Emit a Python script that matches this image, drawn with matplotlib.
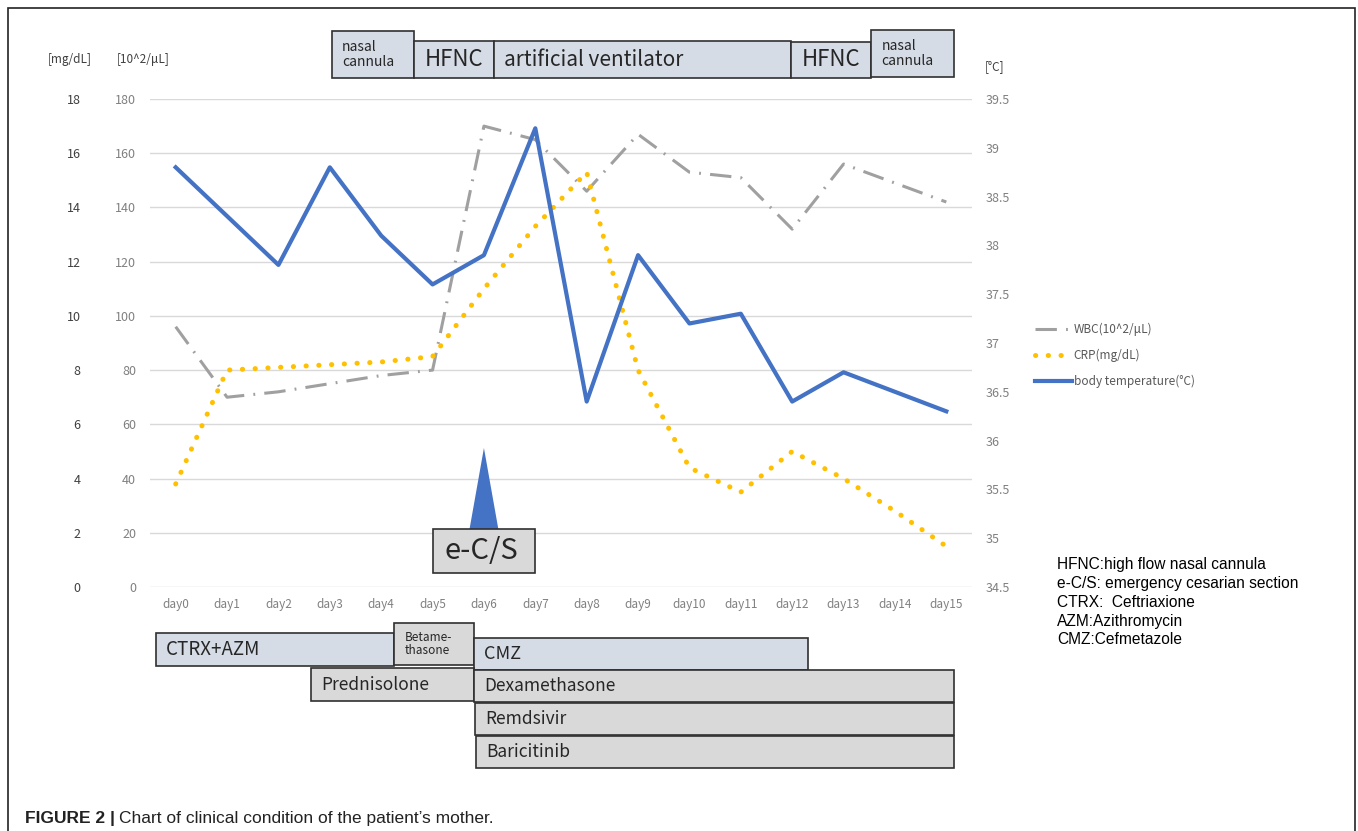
import matplotlib
matplotlib.use("Agg")
import matplotlib.pyplot as plt
import matplotlib.transforms as mtransforms
from matplotlib.patches import Rectangle, Polygon
import numpy as np

# ---- data ----
days = [f"day{i}" for i in range(16)]
wbc = [96, 70, 72, 75, 78, 80, 170, 165, 146, 167, 153, 151, 132, 156, 149, 142]   # 10^2/uL
crp = [3.8, 8.0, 8.1, 8.2, 8.3, 8.5, 11.0, 13.3, 15.3, 8.0, 4.4, 3.5, 5.0, 4.0, 2.8, 1.5]  # mg/dL
temp = [38.8, 38.3, 37.8, 38.8, 38.1, 37.6, 37.9, 39.2, 36.4, 37.9, 37.2, 37.3, 36.4, 36.7, 36.5, 36.3]  # degC

wbc_ticks = list(range(0, 181, 20))
crp_ticks = list(range(0, 19, 2))
temp_ticks = [34.5, 35, 35.5, 36, 36.5, 37, 37.5, 38, 38.5, 39, 39.5]

# respiratory support (label, start day, end day, top px, bottom px, fontsize)
support = [
    ("nasal\ncannula", 3.04, 4.64, 31, 78, 10),
    ("HFNC", 4.64, 6.2, 41, 78, 16),
    ("artificial ventilator", 6.2, 11.98, 41, 78, 15),
    ("HFNC", 11.98, 13.54, 42, 78, 16),
    ("nasal\ncannula", 13.54, 15.14, 30, 77, 10),
]
# medication (label, start day, end day, top px, bottom px, fill, fontsize)
drugs = [
    ("CTRX+AZM", -0.39, 4.25, 633, 666, "#d6dce5", 13.5),
    ("Betame-\nthasone", 4.25, 5.8, 623, 665, "#d9d9d9", 8.5),
    ("CMZ", 5.8, 12.3, 638, 670, "#d6dce5", 13),
    ("Prednisolone", 2.63, 5.8, 668, 701, "#d9d9d9", 12.5),
    ("Dexamethasone", 5.8, 15.14, 670, 702, "#d9d9d9", 12.5),
    ("Remdsivir", 5.82, 15.14, 703, 735, "#d9d9d9", 12.5),
    ("Baricitinib", 5.84, 15.14, 736, 768, "#d9d9d9", 12.5),
]
ecs_day = 6

W, H = 1358, 831
JP = ["Noto Sans CJK JP", "DejaVu Sans"]
plt.rcParams["font.family"] = JP

fig = plt.figure(figsize=(W / 100, H / 100), dpi=100)
ax = fig.add_axes([150 / W, 1 - 587 / H, (972 - 150) / W, (587 - 99) / H])
ax3 = ax.twinx()   # CRP, labels on the far left
ax2 = ax.twinx()   # temperature, right

x = np.arange(len(days))

ax.set_xlim(-0.5, 15.5)
ax.set_ylim(0, 180)
ax.set_yticks(wbc_ticks)
ax.grid(axis="y", color="#d9d9d9", lw=1)
ax.set_axisbelow(True)
ax.set_xticks(x)
ax.set_xticklabels(days)
ax.tick_params(axis="x", length=0, pad=8, labelsize=8.5, labelcolor="#808080")
ax.tick_params(axis="y", length=0, pad=10, labelsize=9, labelcolor="#808080")
for a in (ax, ax2, ax3):
    for s in a.spines.values():
        s.set_visible(False)

ax3.set_ylim(0, 18)
ax3.set_yticks(crp_ticks)
ax3.yaxis.tick_left()
ax3.tick_params(axis="y", length=0, pad=50, labelsize=9, labelcolor="#404040")

ax2.set_ylim(34.5, 39.5)
ax2.set_yticks(temp_ticks)
ax2.set_yticklabels([f"{t:g}" for t in temp_ticks])
ax2.tick_params(axis="y", length=0, pad=10, labelsize=9, labelcolor="#808080")

l1, = ax.plot(x, wbc, color="#a0a0a0", lw=2.2, dashes=(7, 3, 0.6, 3))
l2, = ax3.plot(x, crp, color="#ffc000", lw=3.6, ls=(0, (0.05, 2.5)), dash_capstyle="round")
l3, = ax2.plot(x, temp, color="#4472c4", lw=3)

# axis unit headers
fig.text(70 / W, 1 - 59 / H, "[mg/dL]", ha="center", va="center", fontsize=8.5, color="#404040")
fig.text(117 / W, 1 - 59 / H, "[10^2/\u03bcL]", ha="left", va="center", fontsize=8.5, color="#404040")
fig.text(985 / W, 1 - 67 / H, "[\u00b0C]", ha="left", va="center", fontsize=8.5, color="#404040")

# legend
fig.legend([l1, l2, l3], ["WBC(10^2/\u03bcL)", "CRP(mg/dL)", "body temperature(\u00b0C)"],
           loc="upper left", bbox_to_anchor=(1024 / W, 1 - 312 / H), frameon=False,
           fontsize=8.5, labelcolor="#595959", handlelength=3.2, handletextpad=0.1,
           labelspacing=1.1)

# boxes placed by day on x, figure pixels on y
trans = mtransforms.blended_transform_factory(ax.transData, fig.transFigure)
for label, d0, d1, top, bot, fs in support:
    ax.add_patch(Rectangle((d0, 1 - bot / H), d1 - d0, (bot - top) / H, transform=trans,
                           facecolor="#d6dce5", edgecolor="#303030", lw=1.2, clip_on=False, zorder=5))
    ax.text(d0 + 0.2, 1 - (top + bot) / 2 / H, label, transform=trans, ha="left", va="center",
            fontsize=fs, color="#262626", linespacing=1.05, zorder=6, clip_on=False)

for label, d0, d1, top, bot, fill, fs in drugs:
    ax.add_patch(Rectangle((d0, 1 - bot / H), d1 - d0, (bot - top) / H, transform=trans,
                           facecolor=fill, edgecolor="#303030", lw=1.2, clip_on=False, zorder=5))
    ax.text(d0 + 0.2, 1 - (top + bot) / 2 / H, label, transform=trans, ha="left", va="center",
            fontsize=fs, color="#262626", linespacing=1.05, zorder=6, clip_on=False)

# e-C/S marker
ax.add_patch(Polygon([(ecs_day - 0.28, 1 - 529 / H), (ecs_day, 1 - 448 / H), (ecs_day + 0.28, 1 - 529 / H)],
                     closed=True, transform=trans, facecolor="#4472c4", edgecolor="none",
                     clip_on=False, zorder=5))
ax.add_patch(Rectangle((ecs_day - 1.0, 1 - 573 / H), 2.0, 44 / H, transform=trans,
                       facecolor="#d9d9d9", edgecolor="#303030", lw=1.2, clip_on=False, zorder=6))
ax.text(ecs_day - 0.05, 1 - 551 / H, "e-C/S", transform=trans, ha="center", va="center",
        fontsize=21, color="#262626", zorder=7, clip_on=False)

# abbreviations
fig.text(1057 / W, 1 - 557 / H,
         "HFNC:high flow nasal cannula\ne-C/S: emergency cesarian section\n"
         "CTRX:  Ceftriaxione\nAZM:Azithromycin\nCMZ:Cefmetazole",
         ha="left", va="top", fontsize=11.2, family="Liberation Sans", linespacing=1.32)

# outer frame
fig.add_artist(Rectangle((8 / W, -0.02), (1355 - 8) / W, 1.02 - 8 / H, transform=fig.transFigure,
                         facecolor="none", edgecolor="#222222", lw=1.2))

# caption
cap1 = fig.text(25 / W, 1 - 818 / H, "FIGURE 2 |", ha="left", va="center", fontsize=12.5,
                family="Liberation Sans", weight="bold", color="#222222")
fig.canvas.draw()
bb = cap1.get_window_extent()
fig.text((bb.x1 + 4) / W, 1 - 818 / H, "Chart of clinical condition of the patient\u2019s mother.",
         ha="left", va="center", fontsize=12.5, family="Liberation Sans", color="#222222")

fig.savefig("out.png", dpi=100)
